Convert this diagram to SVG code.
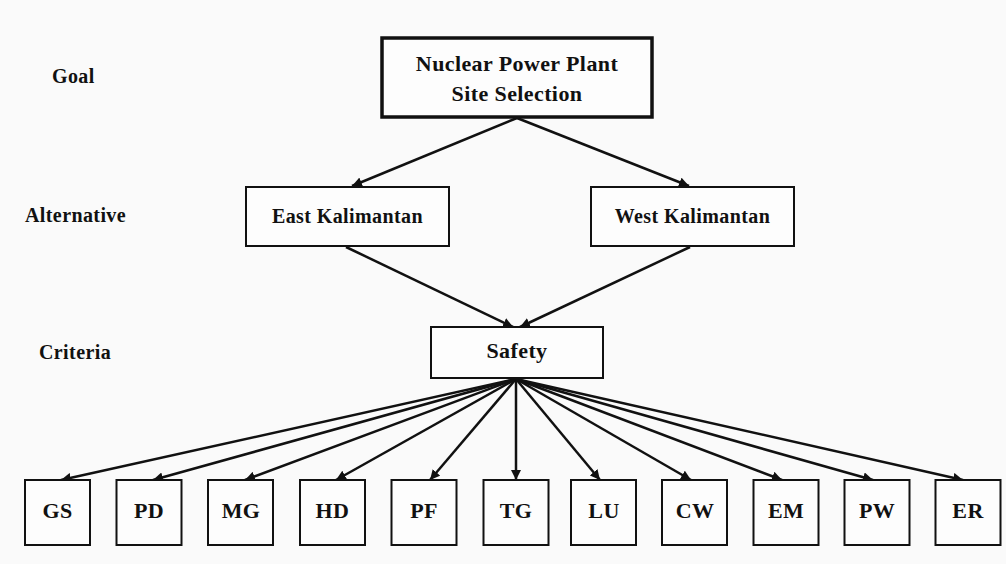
<svg xmlns="http://www.w3.org/2000/svg" width="1006" height="564" viewBox="0 0 1006 564">
<style>
text{font-family:'Liberation Serif','DejaVu Serif',serif;font-weight:700;fill:#111;letter-spacing:0.4px;}
.lbl{font-size:20px;}
.box{fill:#fdfdfd;stroke:#111;stroke-width:2;}
.big{fill:#fdfdfd;stroke:#111;stroke-width:3.5;}
.cn{stroke:#111;stroke-width:2.5;fill:none;marker-end:url(#ah);}
.c{text-anchor:middle;}
</style>
<defs>
<marker id="ah" viewBox="0 0 10 10" refX="10" refY="5" markerWidth="4" markerHeight="4" orient="auto" markerUnits="strokeWidth">
<path d="M0,0 L10,5 L0,10 z" fill="#111"/>
</marker>
</defs>
<rect width="1006" height="564" fill="#fafafa"/>
<g id="levels">
<text class="lbl" x="52" y="83">Goal</text>
<text class="lbl" x="25" y="222">Alternative</text>
<text class="lbl" x="39" y="359">Criteria</text>
</g>
<g id="connectors">
<path class="cn" d="M517,118 L352,186"/>
<path class="cn" d="M517,118 L689,186"/>
<path class="cn" d="M346,247 L513,327"/>
<path class="cn" d="M690,247 L520,327"/>
<path class="cn" d="M516,379 L61,480"/>
<path class="cn" d="M516,379 L153,480"/>
<path class="cn" d="M516,379 L245,480"/>
<path class="cn" d="M516,379 L336,480"/>
<path class="cn" d="M516,379 L430,480"/>
<path class="cn" d="M516,379 L516,480"/>
<path class="cn" d="M516,379 L600,480"/>
<path class="cn" d="M516,379 L691,480"/>
<path class="cn" d="M516,379 L782,480"/>
<path class="cn" d="M516,379 L873,480"/>
<path class="cn" d="M516,379 L963,480"/>
</g>
<g id="goal">
<rect class="big" x="382" y="38" width="270" height="79"/>
<text class="c" x="517" y="71" font-size="22">Nuclear Power Plant</text>
<text class="c" x="517" y="101" font-size="22">Site Selection</text>
</g>
<g id="east">
<rect class="box" x="246" y="187" width="203" height="59"/>
<text class="c" x="347.5" y="223" font-size="20">East Kalimantan</text>
</g>
<g id="west">
<rect class="box" x="591" y="187" width="203" height="59"/>
<text class="c" x="692.5" y="223" font-size="20">West Kalimantan</text>
</g>
<g id="safety">
<rect class="box" x="431" y="327" width="172" height="51"/>
<text class="c" x="517" y="358" font-size="22">Safety</text>
</g>
<g id="GS"><rect class="box" x="25" y="480" width="65" height="65"/><text class="c" x="57.5" y="518" font-size="22">GS</text></g>
<g id="PD"><rect class="box" x="116.5" y="480" width="65" height="65"/><text class="c" x="149" y="518" font-size="22">PD</text></g>
<g id="MG"><rect class="box" x="208" y="480" width="65" height="65"/><text class="c" x="241" y="518" font-size="22">MG</text></g>
<g id="HD"><rect class="box" x="300" y="480" width="65" height="65"/><text class="c" x="332.5" y="518" font-size="22">HD</text></g>
<g id="PF"><rect class="box" x="391.5" y="480" width="65" height="65"/><text class="c" x="424" y="518" font-size="22">PF</text></g>
<g id="TG"><rect class="box" x="483.5" y="480" width="65" height="65"/><text class="c" x="516" y="518" font-size="22">TG</text></g>
<g id="LU"><rect class="box" x="571" y="480" width="65" height="65"/><text class="c" x="604" y="518" font-size="22">LU</text></g>
<g id="CW"><rect class="box" x="662" y="480" width="65" height="65"/><text class="c" x="695" y="518" font-size="22">CW</text></g>
<g id="EM"><rect class="box" x="753.5" y="480" width="65" height="65"/><text class="c" x="786" y="518" font-size="22">EM</text></g>
<g id="PW"><rect class="box" x="844.5" y="480" width="65" height="65"/><text class="c" x="877" y="518" font-size="22">PW</text></g>
<g id="ER"><rect class="box" x="935.5" y="480" width="65" height="65"/><text class="c" x="968" y="518" font-size="22">ER</text></g>
</svg>
